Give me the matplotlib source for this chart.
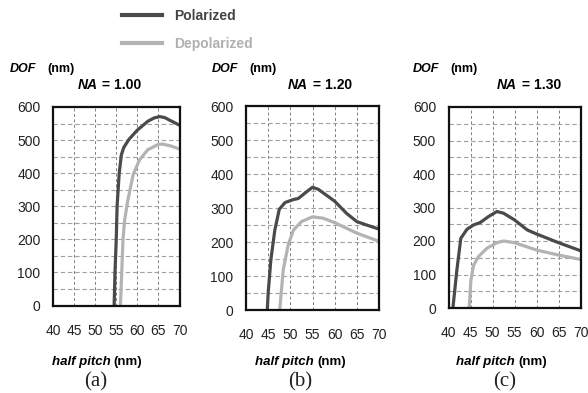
import numpy as np
import matplotlib
matplotlib.use("Agg")
import matplotlib.pyplot as plt

plt.rcParams['font.family'] = ['Liberation Sans', 'DejaVu Sans']

W, H = 588, 393

# half pitch (nm) / DOF (nm)
hp_a_pol = [54.5, 54.7, 55.0, 55.2, 55.7, 56.2, 56.8, 58.0, 60.0, 62.5, 64.0, 65.3, 66.5, 68.0, 70.0]
dof_a_pol = [0, 100, 200, 300, 400, 455, 478, 502, 530, 557, 567, 571, 568, 558, 545]
hp_a_dep = [56.0, 56.3, 56.6, 57.0, 57.7, 59.0, 60.5, 62.5, 65.0, 66.0, 68.0, 70.0]
dof_a_dep = [0, 100, 200, 259, 315, 395, 440, 471, 487, 488, 482, 473]

hp_b_pol = [44.8, 45.0, 45.6, 46.5, 47.5, 48.8, 50.7, 51.8, 53.7, 55.0, 56.3, 60.0, 62.7, 65.0, 67.2, 70.0]
dof_b_pol = [0, 50, 147, 235, 296, 316, 325, 328, 348, 361, 355, 320, 284, 260, 250, 238]
hp_b_dep = [47.6, 48.4, 49.5, 50.7, 52.5, 55.0, 57.4, 60.0, 65.0, 70.0]
dof_b_dep = [0, 118, 191, 235, 260, 274, 270, 257, 226, 202]

hp_c_pol = [41.0, 41.9, 42.8, 44.2, 45.7, 47.2, 49.1, 51.0, 52.5, 55.0, 57.9, 60.0, 65.0, 70.0]
dof_c_pol = [0, 113, 208, 235, 248, 255, 273, 288, 283, 263, 233, 221, 195, 171]
hp_c_dep = [44.7, 45.1, 45.7, 46.8, 48.7, 51.0, 52.5, 55.0, 60.0, 65.0, 70.0]
dof_c_dep = [0, 84, 128, 153, 178, 195, 200, 195, 173, 158, 145]

na_labels = ["1.00", "1.20", "1.30"]
panel_labels = ["(a)", "(b)", "(c)"]
x_ticks = [40, 45, 50, 55, 60, 65, 70]
y_ticks = [0, 100, 200, 300, 400, 500, 600]

series = [
    (hp_a_pol, dof_a_pol, hp_a_dep, dof_a_dep),
    (hp_b_pol, dof_b_pol, hp_b_dep, dof_b_dep),
    (hp_c_pol, dof_c_pol, hp_c_dep, dof_c_dep),
]

# frame boxes in pixels: left, right, top, bottom
boxes = [(53, 179.5, 107, 305.5), (246, 379, 106, 310), (448.5, 580.5, 107, 308)]
dof_x = [10, 212, 413]
na_x = [78, 288, 497]
hp_x = [51.5, 255, 456]
lab_x = [96, 300, 505]

c_pol = '#4a4a4a'
c_dep = '#b3b3b3'


def fx(x):
    return x / W


def fy(y):
    return 1 - y / H


fig = plt.figure(figsize=(W / 100, H / 100), dpi=100)

for i, (xp, yp, xd, yd) in enumerate(series):
    l, r, t, b = boxes[i]
    ax = fig.add_axes([fx(l), fy(b), (r - l) / W, (b - t) / H])
    ax.set_xlim(40, 70)
    ax.set_ylim(0, 600)
    ax.set_xticks(x_ticks)
    ax.set_yticks(y_ticks)
    ax.set_yticks(np.arange(50, 600, 100), minor=True)
    ax.tick_params(length=0, labelsize=10, colors='#222222', which='both')
    ax.tick_params(axis='x', pad=13)
    ax.tick_params(axis='y', pad=9)
    ax.grid(axis='y', which='both', color='#a0a0a0', linestyle=(0, (4, 2.5)), linewidth=0.8)
    ax.grid(axis='x', color='#6a6a6a', linestyle=(0, (3.5, 3)), linewidth=0.6)
    for s in ax.spines.values():
        s.set_linewidth(1.6)
        s.set_color('#111111')
    ax.plot(xd, yd, color=c_dep, linewidth=2.3, solid_joinstyle='round')
    ax.plot(xp, yp, color=c_pol, linewidth=2.3, solid_joinstyle='round')

    fig.text(fx(dof_x[i]), fy(69), 'DOF', fontsize=9, fontweight='bold', fontstyle='italic',
             va='center', ha='left')
    fig.text(fx(dof_x[i] + 37), fy(69), '(nm)', fontsize=9, fontweight='bold',
             va='center', ha='left')
    fig.text(fx(na_x[i]), fy(85), 'NA', fontsize=10, fontweight='bold', fontstyle='italic',
             va='center', ha='left')
    fig.text(fx(na_x[i] + 20.5), fy(85), ' = ' + na_labels[i], fontsize=10, fontweight='bold',
             va='center', ha='left')
    fig.text(fx(hp_x[i]), fy(361.5), 'half pitch', fontsize=9.5, fontweight='bold',
             fontstyle='italic', va='center', ha='left')
    fig.text(fx(hp_x[i] + 62), fy(361.5), '(nm)', fontsize=9.5, fontweight='bold',
             va='center', ha='left')
    fig.text(fx(lab_x[i]), fy(382), panel_labels[i], fontsize=15, family='Liberation Serif',
             va='center', ha='center', color='#222222')

# legend at the top
fig.add_artist(plt.Line2D([fx(122), fx(162)], [fy(15), fy(15)], color=c_pol, linewidth=3))
fig.add_artist(plt.Line2D([fx(122), fx(162)], [fy(43), fy(43)], color=c_dep, linewidth=3))
fig.text(fx(174), fy(16), 'Polarized', fontsize=10, fontweight='bold', color='#444444',
         va='center', ha='left')
fig.text(fx(174), fy(44), 'Depolarized', fontsize=10, fontweight='bold', color='#b0b0b0',
         va='center', ha='left')

fig.savefig('out.png', dpi=100)
